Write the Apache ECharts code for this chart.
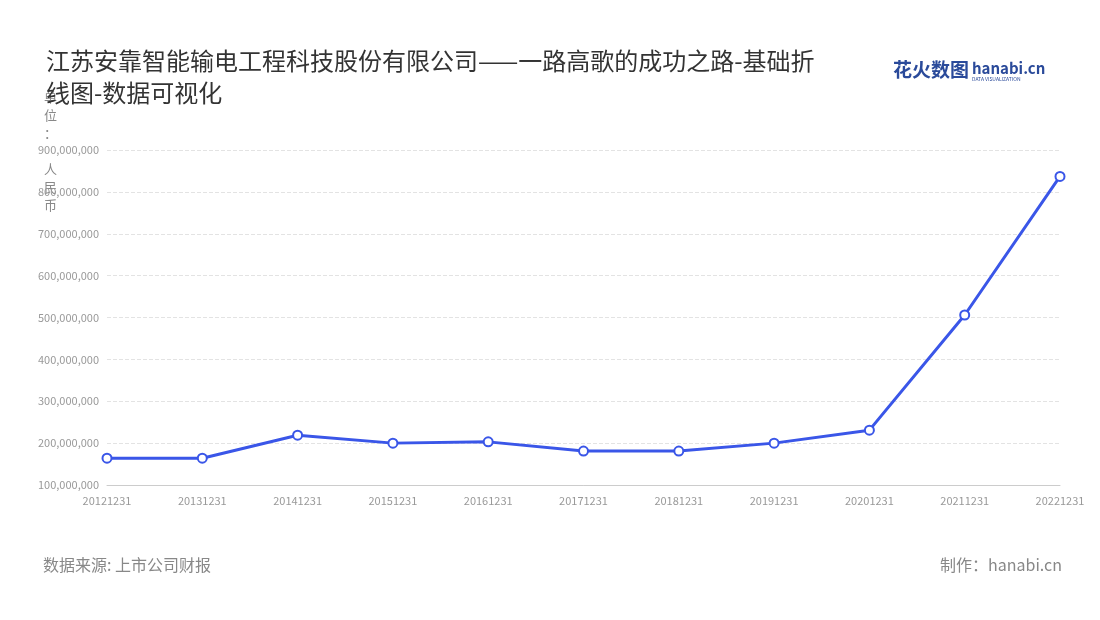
<!DOCTYPE html>
<html>
<head>
<meta charset="utf-8">
<script src="https://cdn.jsdelivr.net/npm/echarts@6/dist/echarts.min.js"></script>
<style>html,body{margin:0;padding:0;background:#fff}#main{width:1100px;height:620px}</style>
</head>
<body>
<div id="main"></div>
<script>
var years = ['20121231','20131231','20141231','20151231','20161231','20171231','20181231','20191231','20201231','20211231','20221231'];
var revenue = [164000000,164000000,219000000,200000000,203000000,181000000,181000000,200000000,231000000,506000000,837000000];

var myChart = echarts.init(document.getElementById('main'));
var font = '"Noto Sans CJK SC", "Noto Sans", sans-serif';
var option = {
    backgroundColor: '#fff',
    textStyle: { fontFamily: font },
    title: {
        text: '江苏安靠智能输电工程科技股份有限公司——一路高歌的成功之路-基础折\n线图-数据可视化',
        left: 41,
        top: 40,
        textStyle: { fontSize: 24, fontWeight: 'normal', color: '#333', lineHeight: 32, fontFamily: font }
    },
    graphic: [
        { type: 'text', left: 893, top: 60, style: { text: '花火数图', fontSize: 19, fontWeight: 'bold', fill: '#2a4a9a', fontFamily: font } },
        { type: 'text', left: 972, top: 61, style: { text: 'hanabi.cn', fontSize: 15, fontWeight: 'bold', fill: '#2a4a9a', fontFamily: font } },
        { type: 'text', left: 972, top: 77, style: { text: 'DATA VISUALIZATION', fontSize: 5, fill: '#2a4a9a', fontFamily: font } },
        { type: 'text', left: 44, top: 88, style: { text: '单\n位\n：\n\n人\n民\n币', fontSize: 13, lineHeight: 18, fill: '#888', fontFamily: font } },
        { type: 'text', left: 43, top: 557, style: { text: '数据来源: 上市公司财报', fontSize: 16, fill: '#888', fontFamily: font } },
        { type: 'text', right: 38, top: 557, style: { text: '制作：hanabi.cn', fontSize: 16, fill: '#888', fontFamily: font } }
    ],
    grid: { left: 107, right: 40, top: 150, bottom: 135 },
    xAxis: {
        type: 'category',
        data: years,
        boundaryGap: false,
        axisLine: { lineStyle: { color: '#ccc' } },
        axisTick: { show: false },
        axisLabel: { color: '#999', fontSize: 11, margin: 10 }
    },
    yAxis: {
        type: 'value',
        min: 100000000,
        max: 900000000,
        interval: 100000000,
        axisLine: { show: false },
        axisTick: { show: false },
        axisLabel: {
            color: '#999', fontSize: 11,
            formatter: function (v) { return v.toLocaleString('en-US'); }
        },
        splitLine: { lineStyle: { color: '#e3e3e3', type: 'dashed' } }
    },
    series: [{
        type: 'line',
        data: revenue,
        symbol: 'circle',
        symbolSize: 9,
        lineStyle: { color: '#3a56e8', width: 3 },
        itemStyle: { color: '#fff', borderColor: '#3a56e8', borderWidth: 2 }
    }]
};
myChart.setOption(option);
</script>
</body>
</html>
